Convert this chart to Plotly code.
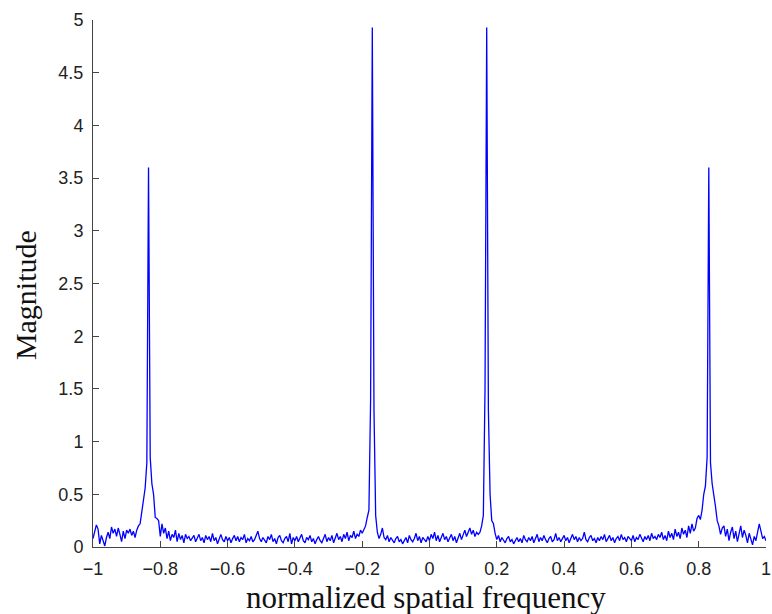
import numpy as np
import plotly.graph_objects as go

# Magnitude samples, frequency grid -1..1 step 0.005 (401 points)
seg_a = [0.08, 0.14, 0.21, 0.17, 0.03, 0.11, 0.06, 0.01, 0.09, 0.14,
         0.08, 0.19, 0.13, 0.17, 0.10, 0.18, 0.12, 0.05, 0.15, 0.08,
         0.16, 0.13, 0.17, 0.11, 0.15, 0.09, 0.16, 0.20]
peak_outer_left = [0.22, 0.32, 0.45, 0.56, 0.8, 3.6, 0.85, 0.6, 0.5, 0.28, 0.27, 0.25, 0.10]
seg_c = [0.22, 0.13, 0.18, 0.08, 0.15, 0.06, 0.12, 0.09, 0.16, 0.05, 0.13, 0.07, 0.11, 0.04, 0.12, 0.08, 0.10, 0.06, 0.09, 0.11,
         0.05, 0.08, 0.12, 0.06, 0.09, 0.04, 0.11, 0.07, 0.10, 0.05, 0.13, 0.06, 0.09, 0.03, 0.08, 0.12, 0.07, 0.05, 0.10, 0.06,
         0.09, 0.04, 0.08, 0.11, 0.06, 0.10, 0.05, 0.09, 0.07, 0.12, 0.04, 0.08, 0.06, 0.10, 0.05, 0.07, 0.11, 0.15, 0.08, 0.05,
         0.09, 0.06, 0.04, 0.10, 0.07, 0.12, 0.05, 0.08, 0.03, 0.09, 0.11, 0.06, 0.04, 0.08, 0.10, 0.05, 0.13, 0.03, 0.09, 0.06,
         0.10, 0.05, 0.08, 0.12, 0.06, 0.04, 0.09, 0.07, 0.11, 0.05, 0.08, 0.03, 0.07, 0.10, 0.06, 0.04, 0.08, 0.12, 0.05, 0.09,
         0.06, 0.11, 0.04, 0.08, 0.13, 0.07, 0.10, 0.05, 0.12, 0.08, 0.14, 0.06, 0.11, 0.09, 0.15, 0.08, 0.12, 0.10, 0.16, 0.13, 0.17]
peak_inner_left = [0.20, 0.28, 0.35, 1.4, 4.93, 1.3, 0.30, 0.14, 0.08]
seg_d = [0.12, 0.18, 0.09, 0.07, 0.11, 0.05, 0.09, 0.06, 0.04, 0.08, 0.10, 0.05, 0.07, 0.03, 0.06, 0.09, 0.04, 0.11, 0.07, 0.05,
         0.08, 0.13, 0.06, 0.10, 0.04, 0.09, 0.07, 0.05, 0.10, 0.06, 0.12, 0.08, 0.14, 0.06, 0.11, 0.05, 0.09, 0.13, 0.07, 0.10, 0.05, 0.08,
         0.12, 0.06, 0.10, 0.04, 0.09, 0.13, 0.07, 0.11, 0.16, 0.10, 0.14, 0.18, 0.12, 0.16, 0.10, 0.14, 0.12]
peak_inner_right = [0.14, 0.20, 0.30, 1.5, 4.93, 1.3, 0.50, 0.25, 0.22, 0.13]
seg_e = [0.07, 0.11, 0.05, 0.09, 0.06, 0.04, 0.08, 0.10, 0.05, 0.07, 0.03, 0.06, 0.09, 0.05, 0.08, 0.04, 0.11, 0.07, 0.05, 0.09,
         0.06, 0.10, 0.04, 0.08, 0.12, 0.05, 0.09, 0.06, 0.11, 0.07, 0.04, 0.08, 0.10, 0.05, 0.07, 0.13, 0.06, 0.09, 0.05, 0.08,
         0.11, 0.06, 0.09, 0.04, 0.08, 0.12, 0.07, 0.10, 0.05, 0.09, 0.06, 0.08, 0.14, 0.07, 0.05, 0.09, 0.11, 0.06, 0.08, 0.04,
         0.09, 0.06, 0.10, 0.07, 0.12, 0.05, 0.08, 0.11, 0.06, 0.09, 0.04, 0.08, 0.10, 0.06, 0.12, 0.07, 0.09, 0.05, 0.10, 0.08,
         0.06, 0.11, 0.05, 0.09, 0.07, 0.12, 0.08, 0.05, 0.10, 0.07, 0.11, 0.06, 0.13, 0.08, 0.10, 0.07, 0.12, 0.09, 0.14, 0.07,
         0.11, 0.06, 0.15, 0.09, 0.13, 0.07, 0.17, 0.10, 0.14, 0.08, 0.18, 0.12, 0.16, 0.09, 0.20, 0.13, 0.22, 0.15]
peak_outer_right = [0.18, 0.27, 0.30, 0.26, 0.35, 0.50, 0.58, 0.85, 3.6, 0.8, 0.6, 0.5, 0.38, 0.25, 0.20, 0.12, 0.18]
seg_tail = [0.20, 0.10, 0.17, 0.06, 0.14, 0.19, 0.08, 0.15, 0.05, 0.12, 0.20, 0.09, 0.16,
            0.11, 0.04, 0.13, 0.07, 0.02, 0.10, 0.06, 0.14, 0.22, 0.15, 0.08, 0.10, 0.06]

magnitude = (seg_a + peak_outer_left + seg_c + peak_inner_left + seg_d +
             peak_inner_right + seg_e + peak_outer_right + seg_tail)
freq = np.linspace(-1, 1, len(magnitude))

x_ticks = [-1, -0.8, -0.6, -0.4, -0.2, 0, 0.2, 0.4, 0.6, 0.8, 1]
x_labels = ["\u22121", "\u22120.8", "\u22120.6", "\u22120.4", "\u22120.2", "0", "0.2", "0.4", "0.6", "0.8", "1"]
y_ticks = [0, 0.5, 1, 1.5, 2, 2.5, 3, 3.5, 4, 4.5, 5]
y_labels = ["0", "0.5", "1", "1.5", "2", "2.5", "3", "3.5", "4", "4.5", "5"]

fig = go.Figure()
fig.add_trace(go.Scatter(x=freq, y=magnitude, mode="lines",
                         line=dict(color="#0000FF", width=1.3), showlegend=False,
                         cliponaxis=False))

axis_common = dict(showgrid=False, zeroline=False, showline=True, linecolor="#444444",
                   linewidth=1, ticks="inside", ticklen=6, tickcolor="#444444",
                   tickfont=dict(family="Liberation Sans, Arial, sans-serif", size=18, color="#222222"),
                   mirror=False, ticklabeloverflow="allow", automargin=False)
fig.update_xaxes(range=[-1, 1], tickvals=x_ticks, ticktext=x_labels, ticklabelstandoff=5, **axis_common)
fig.update_yaxes(range=[0, 5], tickvals=y_ticks, ticktext=y_labels, ticklabelstandoff=5, **axis_common)

fig.add_annotation(text="normalized spatial frequency", xref="paper", yref="paper",
                   x=0.4946, y=-0.095, xanchor="center", yanchor="middle", showarrow=False,
                   font=dict(family="Liberation Serif, serif", size=31, color="#111111"))
fig.add_annotation(text="Magnitude", xref="paper", yref="paper", textangle=-90,
                   x=-0.101, y=0.478, xanchor="center", yanchor="middle", showarrow=False,
                   font=dict(family="Liberation Serif, serif", size=30, color="#111111"))

fig.update_layout(width=772, height=614, margin=dict(l=93, r=6, t=20, b=67),
                  paper_bgcolor="white", plot_bgcolor="white")
fig.write_html("out.html")
